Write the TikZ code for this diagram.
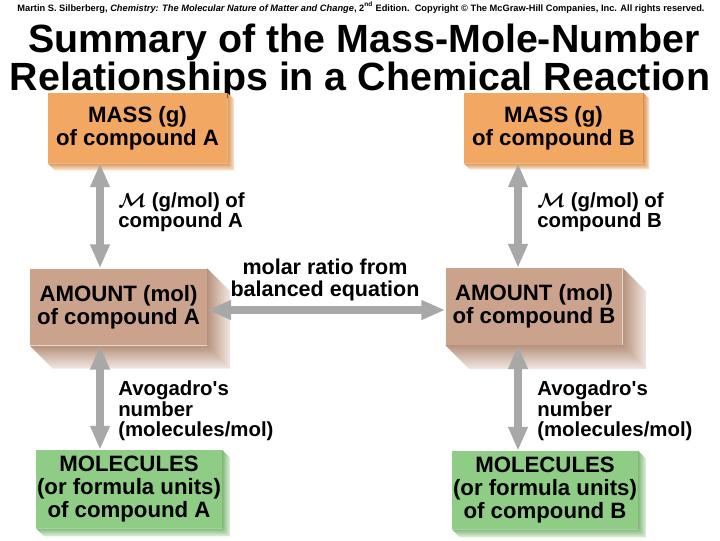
\documentclass[tikz,border=0pt]{standalone}
\usepackage{fontspec}
\setmainfont{Liberation Sans}
\usetikzlibrary{arrows.meta,calc}

\definecolor{massc}{HTML}{F2A862}
\definecolor{amountc}{HTML}{CBA38C}
\definecolor{molc}{HTML}{8FCC85}
\definecolor{convc}{HTML}{A8A8A8}

\begin{document}
\begin{tikzpicture}[x=0.025cm, y=-0.025cm, >={Triangle[width=13pt,length=17pt]},
  box/.style={inner sep=0pt, align=center, font=\fontsize{15.8}{16.4}\selectfont\bfseries},
  massbox/.style={box, fill=massc, minimum width=4.48cm, minimum height=1.75cm},
  amountbox/.style={box, fill=amountc, minimum width=4.42cm, minimum height=1.92cm},
  molbox/.style={box, fill=molc, minimum width=4.64cm, minimum height=1.95cm},
  conv/.style={<->, line width=5pt, draw=convc},
  note/.style={inner sep=0pt, align=left, anchor=west, font=\fontsize{14.5}{14.6}\selectfont\bfseries\boldmath}]
  \useasboundingbox (0,0) rectangle (720,540);
  % Heading
  \node[anchor=base] (credit) at (361,11) {\fontsize{6.6}{7}\selectfont\bfseries Martin S. Silberberg, \textit{Chemistry: The Molecular Nature of Matter and Change}, 2\textsuperscript{nd} Edition.\ \ Copyright \textcopyright{} The McGraw-Hill Companies, Inc. All rights reserved.};
  \node[anchor=base, font=\fontsize{28}{28}\selectfont\bfseries] (title1) at (364,52) {Summary of the Mass-Mole-Number};
  \node[anchor=base, font=\fontsize{28}{28}\selectfont\bfseries] (title2) at (360,90) {Relationships in a Chemical Reaction};
  % Compound A
  \node[massbox] (massA) at (137.5,128) {MASS (g)\\of compound A};
  \node[amountbox] (amountA) at (118.5,307) {AMOUNT (mol)\\of compound A};
  \node[molbox] (molA) at (129,489) {MOLECULES\\(or formula units)\\of compound A};
  % Compound B
  \node[massbox] (massB) at (553.5,128) {MASS (g)\\of compound B};
  \node[amountbox] (amountB) at (534,306.5) {AMOUNT (mol)\\of compound B};
  \node[molbox] (molB) at (545,490) {MOLECULES\\(or formula units)\\of compound B};
  % Shaded sides of the boxes
  \foreach \n/\d/\col in {massA/7/massc, massB/6/massc, amountA/23/amountc,
      amountB/24/amountc, molA/8/molc, molB/8/molc} {
    \shade[left color=\col!90!black, right color=\col!25]
      (\n.north east) -- ($(\n.north east)+(\d,\d)$) -- ($(\n.south east)+(\d,\d)$) -- (\n.south east) -- cycle;
    \shade[top color=\col!90!black, bottom color=\col!25]
      (\n.south west) -- (\n.south east) -- ($(\n.south east)+(\d,\d)$) -- ($(\n.south west)+(\d,\d)$) -- cycle;
  }
  % Conversions
  \coordinate (colA) at (100,0);
  \coordinate (colB) at (518,0);
  \coordinate (rowM) at (0,310);
  \draw[conv] (massA.south -| colA) -- (amountA.north -| colA);
  \draw[conv] (amountA.south -| colA) -- (molA.north -| colA);
  \draw[conv] (massB.south -| colB) -- (amountB.north -| colB);
  \draw[conv] (amountB.south -| colB) -- (molB.north -| colB);
  \draw[conv] (amountA.east |- rowM) -- (amountB.west |- rowM);
  \node[note] (molmassA) at (118,212) {$\mathcal{M}$ (g/mol) of\\compound A};
  \node[note] (avoA) at (118,411) {Avogadro\textquotesingle s\\number\\(molecules/mol)};
  \node[note] (molmassB) at (537,212) {$\mathcal{M}$ (g/mol) of\\compound B};
  \node[note] (avoB) at (537,411) {Avogadro\textquotesingle s\\number\\(molecules/mol)};
  \node[note, anchor=center, align=center, font=\fontsize{15.3}{15.8}\selectfont\bfseries] (ratio) at (325,280) {molar ratio from\\balanced equation};
\end{tikzpicture}
\end{document}
